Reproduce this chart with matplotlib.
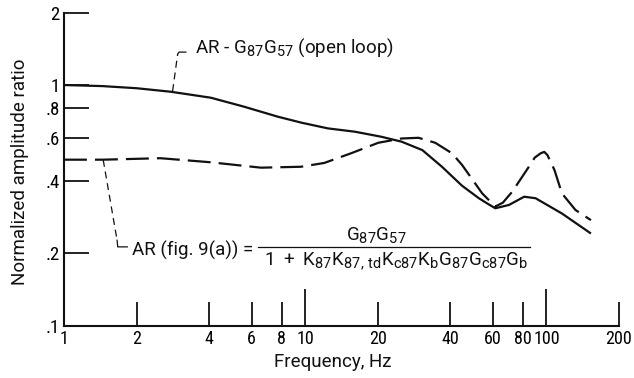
import matplotlib
matplotlib.use("Agg")
import matplotlib.pyplot as plt
import matplotlib._mathtext as mathtext_impl
from matplotlib import font_manager as fm
from matplotlib.ticker import FixedLocator, FixedFormatter, NullLocator
from matplotlib.lines import Line2D

# Open-loop amplitude ratio G87*G57
freq_open = [1.0, 1.44, 2.0, 2.77, 4.06, 5.58, 7.70, 9.64, 12.4, 16.1, 20.7, 25.1,
             30.6, 36.9, 44.7, 52.5, 57.0, 61.4, 70.0, 80.9, 90.2, 116.0, 153.0]
amp_open = [1.0, 0.99, 0.97, 0.938, 0.886, 0.813, 0.739, 0.698, 0.661, 0.640, 0.610, 0.582,
            0.537, 0.458, 0.382, 0.339, 0.322, 0.308, 0.318, 0.344, 0.339, 0.293, 0.242]

# Closed-loop amplitude ratio (fig. 9(a))
freq_closed = [1.0, 1.45, 2.51, 4.06, 6.56, 9.6, 12.0, 15.5, 20.1, 25.1, 29.5, 34.6, 40.6,
               44.7, 54.2, 61.4, 66.0, 72.2, 84.6, 89.5, 94.7, 98.0, 101.0, 108.0, 116.0,
               132.0, 153.0]
amp_closed = [0.49, 0.49, 0.497, 0.478, 0.454, 0.458, 0.475, 0.521, 0.576, 0.600, 0.604,
              0.576, 0.521, 0.466, 0.355, 0.313, 0.325, 0.361, 0.458, 0.50, 0.521, 0.528,
              0.512, 0.444, 0.355, 0.303, 0.275]

x_major = [1, 10, 100]
x_major_labels = ["1", "10", "100"]
x_minor = [2, 4, 6, 8, 20, 40, 60, 80, 200]
x_minor_labels = ["2", "4", "6", "8", "20", "40", "60", "80", "200"]
y_ticks = [0.1, 0.2, 0.4, 0.6, 0.8, 1, 2]
y_tick_labels = [".1", ".2", ".4", ".6", ".8", "1", "2"]


def pick_narrow_font():
    """Return (family, stretch) of a moderately condensed sans face."""
    fonts = [f for f in fm.fontManager.ttflist
             if f.style == "normal" and f.weight in (400, "normal", "regular")
             and "Mono" not in f.name and "Serif" not in f.name]

    def plain_condensed(name):
        return name.endswith(("Condensed", "Narrow")) and not any(
            k in name for k in ("Extra", "Ultra", "Semi"))

    for f in fonts:
        if plain_condensed(f.name) and f.name.startswith(("Noto Sans", "Open Sans",
                                                          "Roboto", "Liberation")):
            return f.name, "normal"
    for f in fonts:
        if plain_condensed(f.name):
            return f.name, "normal"
    for name in ("Noto Sans", "Open Sans", "Roboto", "DejaVu Sans"):
        for f in fonts:
            if f.name == name and f.stretch == "condensed":
                return name, "condensed"
    return "Liberation Sans", "normal"


NARROW, STRETCH = pick_narrow_font()
TEXT_FONT = ["Roboto", "DejaVu Sans"]

# tick numerals use the narrow face, labels and notes the regular one
plt.rcParams["font.family"] = [NARROW, "DejaVu Sans"]
plt.rcParams["font.stretch"] = STRETCH
plt.rcParams["mathtext.fontset"] = "custom"
for key in ("mathtext.rm", "mathtext.it", "mathtext.bf", "mathtext.sf"):
    plt.rcParams[key] = "Roboto"
plt.rcParams["lines.scale_dashes"] = False
# slightly larger subscripts, as in typeset report figures
mathtext_impl.SHRINK_FACTOR = 0.78

W, H = 634, 378
fig = plt.figure(figsize=(W / 100, H / 100), dpi=100)
ax = fig.add_axes([64 / W, 52 / H, (619 - 64) / W, (326 - 12.5) / H])

ax.set_xscale("log")
ax.set_yscale("log")
ax.set_xlim(1, 200)
ax.set_ylim(0.1, 2)

ink = "#111111"
ax.plot(freq_open, amp_open, color=ink, lw=1.6, solid_capstyle="butt")
ax.plot(freq_closed, amp_closed, color=ink, lw=1.6, ls=(0, (16.5, 5.8)))

for side in ("top", "right"):
    ax.spines[side].set_visible(False)
for side in ("left", "bottom"):
    ax.spines[side].set_linewidth(1.5)
    ax.spines[side].set_color(ink)

ax.xaxis.set_major_locator(FixedLocator(x_major))
ax.xaxis.set_major_formatter(FixedFormatter(x_major_labels))
ax.xaxis.set_minor_locator(FixedLocator(x_minor))
ax.xaxis.set_minor_formatter(FixedFormatter(x_minor_labels))
ax.yaxis.set_major_locator(FixedLocator(y_ticks))
ax.yaxis.set_major_formatter(FixedFormatter(y_tick_labels))
ax.yaxis.set_minor_locator(NullLocator())

ax.tick_params(axis="x", which="major", direction="in", length=26.5, width=1.3,
               color=ink, labelsize=13, pad=3)
ax.tick_params(axis="x", which="minor", direction="in", length=17, width=1.3,
               color=ink, labelsize=13, pad=3)
ax.tick_params(axis="y", which="major", direction="in", length=18, width=1.3,
               color=ink, labelsize=13.5, pad=3)

fig.text(20 / W, 1 - 172 / H, "Normalized amplitude ratio", rotation=90,
         ha="center", va="center", fontsize=13.5, color=ink, family=TEXT_FONT)
fig.text(333 / W, 1 - 362 / H, "Frequency, Hz", ha="center", va="center",
         fontsize=13.5, color=ink, family=TEXT_FONT)

# Leader for the open-loop curve
ax.plot([2.82, 2.96], [0.944, 1.345], color=ink, lw=0.9, ls=(0, (5, 3.5)))
ax.plot([2.96, 3.0, 3.2], [1.345, 1.37, 1.37], color=ink, lw=0.9)
fig.text(195 / W, 1 - 53 / H, r"AR - $\mathrm{G_{87}G_{57}}$ (open loop)",
         ha="left", va="baseline", fontsize=13.5, color=ink, family=TEXT_FONT)

# Leader for the closed-loop curve
ax.plot([1.454, 1.66], [0.489, 0.227], color=ink, lw=0.9, ls=(0, (5, 3.5)))
ax.plot([1.66, 1.67, 1.83], [0.227, 0.213, 0.213], color=ink, lw=0.9)
fig.text(132 / W, 1 - 256 / H, "AR (fig. 9(a)) =", ha="left", va="baseline",
         fontsize=13.5, color=ink, family=TEXT_FONT)

fig.text(376 / W, 1 - 240 / H, r"$\mathrm{G_{87}G_{57}}$", ha="center",
         va="baseline", fontsize=13.5, color=ink, family=TEXT_FONT)
fig.add_artist(Line2D([258 / W, 530 / W], [1 - 247 / H, 1 - 247 / H],
                      transform=fig.transFigure, color=ink, lw=0.9))
fig.text(396 / W, 1 - 265 / H,
         r"$\mathrm{1\ +\ K_{87}K_{87,\,td}K_{c87}K_bG_{87}G_{c87}G_b}$",
         ha="center", va="baseline", fontsize=13.5, color=ink, family=TEXT_FONT)

fig.savefig("out.png", dpi=100)
